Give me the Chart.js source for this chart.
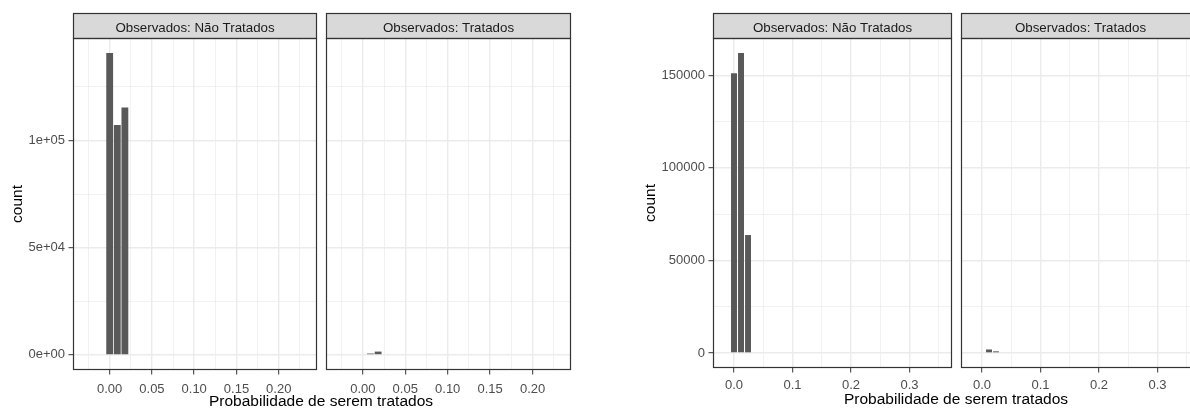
<!DOCTYPE html>
<html>
<head>
<meta charset="utf-8">
<script src="https://cdn.jsdelivr.net/npm/chart.js@4.4.1/dist/chart.umd.min.js"></script>
<style>
  html, body { margin: 0; padding: 0; background: #fff; }
  body { width: 1190px; height: 408px; position: relative; overflow: hidden; font-family: "Liberation Sans", Arial, sans-serif; }
  canvas { position: absolute; top: 0; }
  .xtitle { position: absolute; font-size: 15.5px; line-height: 18px; color: #000; white-space: nowrap; transform: translateX(-50%); }
</style>
</head>
<body>
<canvas id="leftNao" width="320" height="408" style="left:0px"></canvas>
<canvas id="leftTrat" width="251" height="408" style="left:323px"></canvas>
<canvas id="rightNao" width="356" height="408" style="left:600px"></canvas>
<canvas id="rightTrat" width="246" height="408" style="left:957px"></canvas>
<div class="xtitle" style="left:321px;top:392px">Probabilidade de serem tratados</div>
<div class="xtitle" style="left:956px;top:390px">Probabilidade de serem tratados</div>

<script>
// facet labels
const facetLabels = ["Observados: Não Tratados", "Observados: Tratados"];

// left figure: bin centres and counts per facet
const binsLeft = [0.0, 0.009, 0.018];
const naoTratadosLeft = [140800, 107200, 115400];
const tratadosLeft = [0, 650, 1550];

// right figure
const binsRight = [0.0, 0.012, 0.024];
const naoTratadosRight = [151000, 162000, 63700];
const tratadosRight = [0, 1900, 900];

// tick values / labels
const xTicksLeft = [0, 0.05, 0.1, 0.15, 0.2];
const xTickLabelsLeft = ["0.00", "0.05", "0.10", "0.15", "0.20"];
const yTicksLeft = [0, 50000, 100000];
const yTickLabelsLeft = ["0e+00", "5e+04", "1e+05"];

const xTicksRight = [0, 0.1, 0.2, 0.3];
const xTickLabelsRight = ["0.0", "0.1", "0.2", "0.3"];
const yTicksRight = [0, 50000, 100000, 150000];
const yTickLabelsRight = ["0", "50000", "100000", "150000"];

const FONT = '"Liberation Sans", Arial, sans-serif';
const GRID = "#EBEBEB";
const DARK = "#333333";

// ggplot-like panel border + grey strip with facet label
const facetStrip = {
  id: "facetStrip",
  afterDraw(chart, args, opts) {
    const { ctx, chartArea: a } = chart;
    const h = 25;
    ctx.save();
    ctx.fillStyle = "#D9D9D9";
    ctx.fillRect(a.left, a.top - h, a.right - a.left, h);
    ctx.strokeStyle = DARK;
    ctx.lineWidth = 1.2;
    ctx.strokeRect(a.left + 0.5, a.top - h + 0.5, a.right - a.left - 1, h);
    ctx.strokeRect(a.left + 0.5, a.top + 0.5, a.right - a.left - 1, a.bottom - a.top - 1);
    ctx.fillStyle = "#1A1A1A";
    ctx.font = "13.3px " + FONT;
    ctx.textAlign = "center";
    ctx.textBaseline = "alphabetic";
    ctx.fillText(opts.text, (a.left + a.right) / 2, a.top - 6);
    ctx.restore();
  },
};

function labelFor(value, ticks, labels) {
  const i = ticks.findIndex((t) => Math.abs(t - value) < 1e-9);
  return i >= 0 ? labels[i] : "";
}

function isMajor(value, ticks) {
  return ticks.some((t) => Math.abs(t - value) < 1e-9);
}

// major + minor break positions inside [min, max]
function breaks(min, max, step) {
  const out = [];
  for (let k = Math.ceil(min / step - 1e-9); k * step <= max + 1e-12; k++) {
    out.push({ value: Math.round(k * step * 1e6) / 1e6 });
  }
  return out;
}

function renderPanel(id, cfg) {
  const maxCount = Math.max(...cfg.allCounts);
  const yMin = -0.05 * maxCount;
  const yMax = 1.05 * maxCount;
  const ctx = document.getElementById(id).getContext("2d");
  new Chart(ctx, {
    type: "bar",
    data: {
      datasets: [
        {
          data: cfg.bins.map((b, i) => ({ x: b, y: cfg.counts[i] })),
          backgroundColor: "#595959",
          borderWidth: 0,
          barPercentage: cfg.barPct,
          categoryPercentage: 1,
        },
      ],
    },
    plugins: [facetStrip],
    options: {
      responsive: false,
      animation: false,
      layout: { padding: cfg.padding },
      plugins: {
        legend: { display: false },
        tooltip: { enabled: false },
        facetStrip: { text: cfg.label },
      },
      scales: {
        x: {
          type: "linear",
          offset: false,
          min: cfg.xMin,
          max: cfg.xMax,
          afterBuildTicks: (s) => { s.ticks = breaks(cfg.xMin, cfg.xMax, cfg.xStep); },
          afterFit: (s) => { s.height = cfg.xAxisHeight; },
          border: { display: false },
          grid: {
            offset: false,
            color: GRID,
            lineWidth: (c) => (isMajor(c.tick.value, cfg.xTicks) ? 1.4 : 0.7),
            tickColor: (c) => (isMajor(c.tick.value, cfg.xTicks) ? DARK : "rgba(0,0,0,0)"),
            tickWidth: 1,
            tickLength: 4.5,
          },
          ticks: {
            autoSkip: false,
            maxRotation: 0,
            padding: cfg.xPad,
            color: "#4D4D4D",
            font: { family: FONT, size: 13 },
            callback: (v) => labelFor(v, cfg.xTicks, cfg.xLabels),
          },
        },
        y: {
          min: yMin,
          max: yMax,
          afterBuildTicks: (s) => { s.ticks = breaks(yMin, yMax, cfg.yStep); },
          afterFit: (s) => { s.width = cfg.yAxisWidth; },
          border: { display: false },
          grid: {
            color: GRID,
            lineWidth: (c) => (isMajor(c.tick.value, cfg.yTicks) ? 1.4 : 0.7),
            tickColor: (c) => (isMajor(c.tick.value, cfg.yTicks) ? DARK : "rgba(0,0,0,0)"),
            tickWidth: 1,
            tickLength: 4.5,
            drawTicks: cfg.showY,
          },
          ticks: {
            display: cfg.showY,
            autoSkip: false,
            padding: 3.5,
            color: "#4D4D4D",
            font: { family: FONT, size: 13 },
            callback: (v) => labelFor(v, cfg.yTicks, cfg.yLabels),
          },
          title: {
            display: cfg.showY,
            text: "count",
            color: "#000",
            font: { family: FONT, size: 15.5 },
            padding: { top: cfg.yTitlePad, bottom: 0 },
          },
        },
      },
    },
  });
}

document.addEventListener("DOMContentLoaded", () => {
  const left = {
    bins: binsLeft,
    allCounts: naoTratadosLeft.concat(tratadosLeft),
    xMin: -0.0434, xMax: 0.2453, xStep: 0.025,
    xTicks: xTicksLeft, xLabels: xTickLabelsLeft,
    yStep: 25000, yTicks: yTicksLeft, yLabels: yTickLabelsLeft,
    xAxisHeight: 38, xPad: 7, barPct: 0.9,
  };
  const right = {
    bins: binsRight,
    allCounts: naoTratadosRight.concat(tratadosRight),
    xMin: -0.0359, xMax: 0.3726, xStep: 0.05,
    xTicks: xTicksRight, xLabels: xTickLabelsRight,
    yStep: 25000, yTicks: yTicksRight, yLabels: yTickLabelsRight,
    xAxisHeight: 40, xPad: 5, barPct: 0.85,
  };

  renderPanel("leftNao", { ...left, counts: naoTratadosLeft, label: facetLabels[0],
    showY: true, yAxisWidth: 73, yTitlePad: 8, padding: { left: 0, right: 3, top: 38, bottom: 0 } });
  renderPanel("leftTrat", { ...left, counts: tratadosLeft, label: facetLabels[1],
    showY: false, yAxisWidth: 0, yTitlePad: 0, padding: { left: 3, right: 3, top: 38, bottom: 0 } });
  renderPanel("rightNao", { ...right, counts: naoTratadosRight, label: facetLabels[0],
    showY: true, yAxisWidth: 113, yTitlePad: 41, padding: { left: 0, right: 4, top: 38, bottom: 0 } });
  renderPanel("rightTrat", { ...right, counts: tratadosRight, label: facetLabels[1],
    showY: false, yAxisWidth: 0, yTitlePad: 0, padding: { left: 4, right: 3, top: 38, bottom: 0 } });
});
</script>
</body>
</html>
